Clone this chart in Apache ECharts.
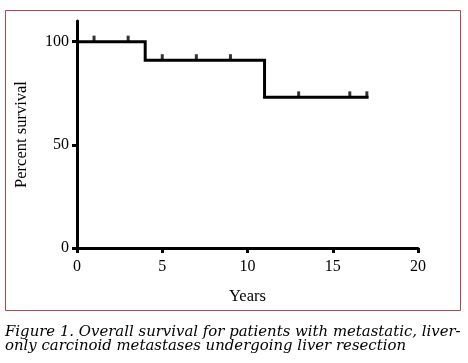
<!DOCTYPE html>
<html>
<head>
<meta charset="utf-8">
<script src="https://cdn.jsdelivr.net/npm/echarts@6/dist/echarts.min.js"></script>
<style>
  html, body { margin: 0; padding: 0; background: #fff; }
  #chart { width: 468px; height: 363px; }
</style>
</head>
<body>
<div id="chart"></div>
<script>
// Kaplan-Meier step curve (years, percent survival)
var stepYears = [0, 4, 4, 11, 11, 17.1];
var stepSurvival = [100, 100, 91, 91, 73, 73];
// censored observations
var censorYears = [1, 3, 5, 7, 9, 13, 16, 17];
var censorSurvival = [100, 100, 91, 91, 91, 73, 73, 73];
var xTicks = [0, 5, 10, 15, 20];
var yTicks = [0, 50, 100];
var caption = [
    'Figure 1. Overall survival for patients with metastatic, liver-',
    'only carcinoid metastases undergoing liver resection'
];

var chart = echarts.init(document.getElementById('chart'), null, { renderer: 'canvas' });
var serif = '"Liberation Serif", "DejaVu Serif", serif';
var capFont = 'italic 14.9px "DejaVu Serif", serif';

var lineData = stepYears.map(function (x, i) { return [x, stepSurvival[i]]; });
var censorData = censorYears.map(function (x, i) { return [x, censorSurvival[i]]; });

chart.setOption({
    animation: false,
    backgroundColor: '#fff',
    grid: { left: 77, right: 50, top: 21, bottom: 115, containLabel: false },
    xAxis: {
        type: 'value',
        min: 0,
        max: 20,
        interval: 5,
        name: 'Years',
        nameLocation: 'middle',
        nameGap: 40,
        nameTextStyle: { color: '#000', fontFamily: serif, fontSize: 16.5 },
        axisLine: { show: true, onZero: false, lineStyle: { color: '#000', width: 3 } },
        axisTick: { show: true, length: 5, lineStyle: { color: '#000', width: 3 } },
        axisLabel: { color: '#000', fontFamily: serif, fontSize: 16, margin: 11,
            customValues: xTicks },
        splitLine: { show: false }
    },
    yAxis: {
        type: 'value',
        min: 0,
        max: 110,
        name: 'Percent survival',
        nameLocation: 'middle',
        nameGap: 47,
        nameTextStyle: { color: '#000', fontFamily: serif, fontSize: 16.5 },
        axisLine: { show: true, onZero: false, lineStyle: { color: '#000', width: 3 } },
        axisTick: { show: true, length: 5, lineStyle: { color: '#000', width: 3 },
            customValues: yTicks },
        axisLabel: { color: '#000', fontFamily: serif, fontSize: 16, margin: 8,
            customValues: yTicks },
        splitLine: { show: false }
    },
    series: [
        {
            type: 'line',
            data: lineData,
            showSymbol: false,
            lineStyle: { color: '#000', width: 3, join: 'miter' },
            z: 3
        },
        {
            type: 'scatter',
            data: censorData,
            symbol: 'rect',
            symbolSize: [3, 6],
            symbolOffset: [0, -3],
            itemStyle: { color: '#000' },
            z: 4
        }
    ],
    graphic: [
        {
            type: 'rect',
            shape: { x: 5.5, y: 10.5, width: 455, height: 300 },
            style: { fill: null, stroke: '#b5474b', lineWidth: 1 },
            silent: true
        },
        {
            type: 'text',
            style: {
                x: 5, y: 332, text: caption[0], fill: '#000',
                font: capFont, verticalAlign: 'middle'
            }
        },
        {
            type: 'text',
            style: {
                x: 5, y: 346, text: caption[1], fill: '#000',
                font: capFont, verticalAlign: 'middle'
            }
        }
    ]
});
</script>
</body>
</html>
